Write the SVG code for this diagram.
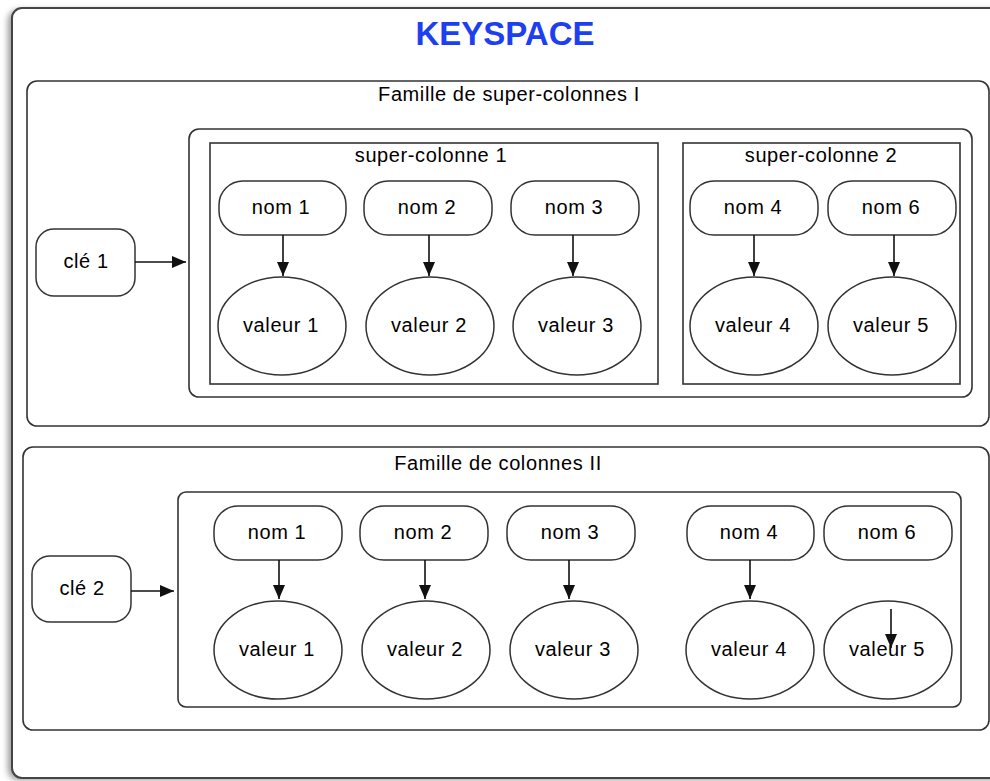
<svg xmlns="http://www.w3.org/2000/svg" width="990" height="781" viewBox="0 0 990 781">
<style>
  .box{fill:none;stroke:#333;stroke-width:1.6}
  .node{fill:#fff;stroke:#333;stroke-width:1.5}
  .t{font-family:"Liberation Sans",Arial,sans-serif;font-size:20px;letter-spacing:0.6px;fill:#000;text-anchor:middle}
  .title{font-family:"Liberation Sans",Arial,sans-serif;font-size:33px;font-weight:bold;fill:#1e3ff0;text-anchor:middle}
  .edge{stroke:#111;stroke-width:1.6;fill:none}
</style>
<defs>
  <marker id="ah" markerUnits="userSpaceOnUse" markerWidth="14" markerHeight="14" viewBox="0 0 14 14" refX="14" refY="7" orient="auto">
    <path d="M0,1 L14,7 L0,13 Z" fill="#111"/>
  </marker>
  <filter id="sh" x="-5%" y="-5%" width="110%" height="110%">
    <feGaussianBlur stdDeviation="3"/>
  </filter>
</defs>
<rect width="990" height="781" fill="#fff"/>
<g id="keyspace">
  <rect x="8" y="10" width="1000" height="770" rx="10" fill="#999" filter="url(#sh)"/>
  <rect x="12" y="8" width="990" height="770" rx="10" fill="#fff" stroke="#444" stroke-width="2"/>
  <text class="title" x="505" y="45">KEYSPACE</text>
</g>
<g id="famille1">
  <rect class="box" x="27" y="81" width="962" height="345" rx="10"/>
  <text class="t" x="509" y="101">Famille de super-colonnes I</text>
  <rect class="box" x="189" y="129" width="783" height="268" rx="10"/>
</g>
<g id="supercolonne1">
  <rect class="box" x="210" y="143" width="448" height="241"/>
  <text class="t" x="431" y="162">super-colonne 1</text>
</g>
<g id="supercolonne2">
  <rect class="box" x="683" y="143" width="277" height="241"/>
  <text class="t" x="821" y="162">super-colonne 2</text>
</g>
<g id="cle1"><rect class="node" x="36" y="229" width="99" height="67" rx="18"/><text class="t" x="86" y="268">clé 1</text></g>
<g id="f1-nom1"><rect class="node" x="219" y="181" width="127" height="54" rx="24"/><text class="t" x="281" y="214">nom 1</text></g>
<g id="f1-nom2"><rect class="node" x="364" y="181" width="128" height="54" rx="24"/><text class="t" x="427" y="214">nom 2</text></g>
<g id="f1-nom3"><rect class="node" x="511" y="181" width="128" height="54" rx="24"/><text class="t" x="574" y="214">nom 3</text></g>
<g id="f1-nom4"><rect class="node" x="690" y="181" width="128" height="54" rx="24"/><text class="t" x="753" y="214">nom 4</text></g>
<g id="f1-nom6"><rect class="node" x="828" y="181" width="128" height="54" rx="24"/><text class="t" x="891" y="214">nom 6</text></g>
<g id="f1-val1"><ellipse class="node" cx="282" cy="326" rx="64" ry="49"/><text class="t" x="281" y="332">valeur 1</text></g>
<g id="f1-val2"><ellipse class="node" cx="430" cy="326" rx="64" ry="49"/><text class="t" x="429" y="332">valeur 2</text></g>
<g id="f1-val3"><ellipse class="node" cx="577" cy="326" rx="64" ry="49"/><text class="t" x="576" y="332">valeur 3</text></g>
<g id="f1-val4"><ellipse class="node" cx="754" cy="326" rx="64" ry="49"/><text class="t" x="753" y="332">valeur 4</text></g>
<g id="f1-val5"><ellipse class="node" cx="892" cy="326" rx="64" ry="49"/><text class="t" x="891" y="332">valeur 5</text></g>

<g id="famille2">
  <rect class="box" x="23" y="447" width="966" height="283" rx="10"/>
  <text class="t" x="498" y="470">Famille de colonnes II</text>
  <rect class="box" x="178" y="492" width="783" height="215" rx="8"/>
</g>
<g id="cle2"><rect class="node" x="32" y="556" width="99" height="66" rx="18"/><text class="t" x="82" y="595">clé 2</text></g>
<g id="f2-nom1"><rect class="node" x="214" y="506" width="128" height="54" rx="24"/><text class="t" x="277" y="539">nom 1</text></g>
<g id="f2-nom2"><rect class="node" x="360" y="506" width="128" height="54" rx="24"/><text class="t" x="423" y="539">nom 2</text></g>
<g id="f2-nom3"><rect class="node" x="507" y="506" width="128" height="54" rx="24"/><text class="t" x="570" y="539">nom 3</text></g>
<g id="f2-nom4"><rect class="node" x="687" y="506" width="127" height="54" rx="24"/><text class="t" x="749" y="539">nom 4</text></g>
<g id="f2-nom6"><rect class="node" x="824" y="506" width="128" height="54" rx="24"/><text class="t" x="887" y="539">nom 6</text></g>
<g id="f2-val1"><ellipse class="node" cx="278" cy="650" rx="64" ry="49"/><text class="t" x="277" y="656">valeur 1</text></g>
<g id="f2-val2"><ellipse class="node" cx="426" cy="650" rx="64" ry="49"/><text class="t" x="425" y="656">valeur 2</text></g>
<g id="f2-val3"><ellipse class="node" cx="574" cy="650" rx="64" ry="49"/><text class="t" x="573" y="656">valeur 3</text></g>
<g id="f2-val4"><ellipse class="node" cx="750" cy="650" rx="64" ry="49"/><text class="t" x="749" y="656">valeur 4</text></g>
<g id="f2-val5"><ellipse class="node" cx="888" cy="650" rx="64" ry="49"/><text class="t" x="887" y="656">valeur 5</text></g>

<g id="connectors">
  <line class="edge" x1="135" y1="262" x2="186" y2="262" marker-end="url(#ah)"/>
  <line class="edge" x1="283" y1="235" x2="283" y2="276" marker-end="url(#ah)"/>
  <line class="edge" x1="429" y1="235" x2="429" y2="276" marker-end="url(#ah)"/>
  <line class="edge" x1="573" y1="235" x2="573" y2="276" marker-end="url(#ah)"/>
  <line class="edge" x1="754" y1="235" x2="754" y2="276" marker-end="url(#ah)"/>
  <line class="edge" x1="894" y1="235" x2="894" y2="276" marker-end="url(#ah)"/>
  <line class="edge" x1="131" y1="591" x2="174" y2="591" marker-end="url(#ah)"/>
  <line class="edge" x1="279" y1="560" x2="279" y2="599" marker-end="url(#ah)"/>
  <line class="edge" x1="425" y1="560" x2="425" y2="599" marker-end="url(#ah)"/>
  <line class="edge" x1="569" y1="560" x2="569" y2="599" marker-end="url(#ah)"/>
  <line class="edge" x1="750" y1="560" x2="750" y2="599" marker-end="url(#ah)"/>
  <line class="edge" x1="891" y1="609" x2="891" y2="648" marker-end="url(#ah)"/>
</g>
</svg>
